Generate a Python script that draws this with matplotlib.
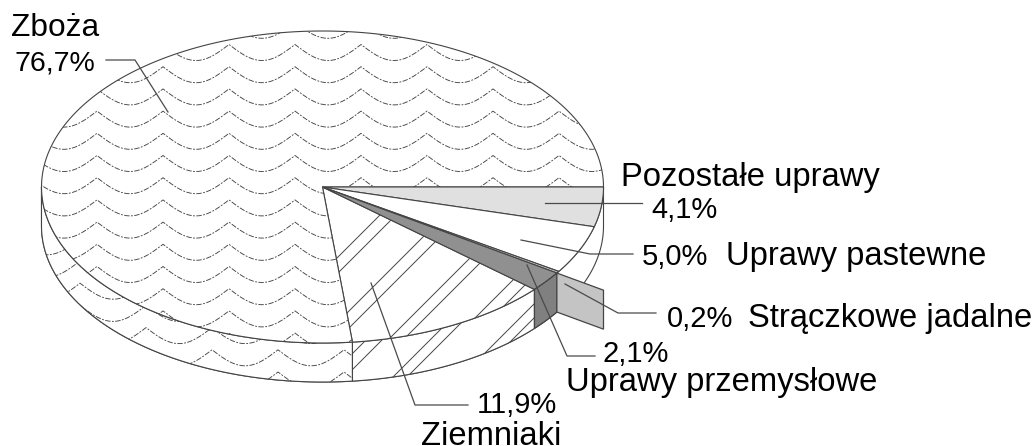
import numpy as np
import matplotlib
matplotlib.use('Agg')
import matplotlib.pyplot as plt
from matplotlib.patches import Polygon

plt.rcParams['font.family'] = ['Liberation Sans', 'DejaVu Sans']

# shares, clockwise from 3 o'clock
names = ['Pozostałe uprawy', 'Uprawy pastewne', 'Strączkowe jadalne',
         'Uprawy przemysłowe', 'Ziemniaki', 'Zboża']
shares = [4.1, 5.0, 0.2, 2.1, 11.9, 76.7]
pct_labels = ['4,1%', '5,0%', '0,2%', '2,1%', '11,9%', '76,7%']
colors = ['#e0e0e0', 'white', '#c4c4c4', '#909090', 'white', 'white']

# pie geometry in picture pixels
cx, cy = 322.5, 187
rx, ry = 281, 156
depth = 39
edge = '#444444'
lw = 0.8

angles = np.concatenate([[0], np.cumsum(shares)]) * 3.6


def rim(a0, a1, dy=0):
    t = np.radians(np.linspace(a0, a1, 200))
    return np.column_stack([cx + rx * np.cos(t), cy + dy + ry * np.sin(t)])


def top_poly(i):
    return np.vstack([[cx, cy], rim(angles[i], angles[i + 1])])


def side_poly(a0, a1):
    return np.vstack([rim(a0, a1), rim(a0, a1, depth)[::-1]])


def waves(ax, clip, x0, y0):
    xs = np.arange(0, 1036, 0.5)
    for k in range(-2, 18):
        ys = y0 + k * 22.2 + 16 * np.abs(np.sin(np.pi * (xs - x0) / 66))
        ln, = ax.plot(xs, ys, color='#444444', lw=0.65, dashes=(6, 1.6, 2, 1.6), zorder=3)
        ln.set_clip_path(clip)


def diagonals(ax, clip, sums):
    for s in sums:
        ln, = ax.plot([s - 500, s], [500, 0], color='#444444', lw=0.7, zorder=3)
        ln.set_clip_path(clip)


fig = plt.figure(figsize=(10.36, 4.46), dpi=100)
ax = fig.add_axes([0, 0, 1, 1])
ax.set_xlim(0, 1036)
ax.set_ylim(446, 0)
ax.axis('off')

# outer wall
wall = Polygon(side_poly(0, 180), closed=True, fc='white', ec=edge, lw=lw, zorder=2)
ax.add_patch(wall)

# hatch on the wall
a_zb = angles[5]
a_zm = angles[4]
wall_zb = Polygon(side_poly(a_zb, 180), closed=True, fc='white', ec=edge, lw=lw, zorder=2)
ax.add_patch(wall_zb)
waves(ax, wall_zb, 80, 372 - 22.2 * 4)
wall_zm = Polygon(side_poly(a_zm, a_zb), closed=True, fc='white', ec=edge, lw=lw, zorder=2)
ax.add_patch(wall_zm)
diagonals(ax, wall_zm, [706, 722, 770, 784, 838, 852, 904, 918])

# slices on top
tops = []
for i in range(len(shares)):
    p = Polygon(top_poly(i), closed=True, fc=colors[i], ec=edge, lw=lw, zorder=4)
    ax.add_patch(p)
    tops.append(p)

tops[5].set_zorder(2.5)
tops[4].set_zorder(2.5)
waves(ax, tops[5], 97, 44.5 - 22.2)
diagonals(ax, tops[4], [595, 611, 660, 677, 728, 743, 793, 810, 860, 876])

# the pulled out walls of the two small slices
a_s = angles[3]
a_p = angles[4]
ax.add_patch(Polygon(side_poly(a_s, a_p), closed=True, fc='#808080', ec=edge, lw=0.9, zorder=6))
x_in, y_in = rim(a_s, a_s)[0]
k = rx / (x_in - cx)
x_out, y_out = cx + rx, cy + (y_in - cy) * k
ax.add_patch(Polygon([[x_in, y_in], [x_out, y_out], [x_out, y_out + depth], [x_in, y_in + depth]],
                     closed=True, fc=colors[2], ec=edge, lw=0.9, zorder=6))

# leader lines
lead = '#4a4a4a'
leaders = [([106, 135, 168], [60, 60, 112]),
           ([545, 642], [203, 203]),
           ([521, 590, 633], [240, 254, 254]),
           ([565, 618, 656], [284, 313, 313]),
           ([527, 567, 595], [265, 356, 356]),
           ([371, 415, 468], [283, 405, 405])]
for lx, ly in leaders:
    ax.plot(lx, ly, color=lead, lw=0.9, zorder=7)

# labels
fs = 23.6
fp = 21
tc = 'black'
ax.text(11, 36, names[5], fontsize=22.8, color=tc, va='baseline')
ax.text(14, 71, pct_labels[5], fontsize=20.5, color=tc, va='baseline')
ax.text(621, 186, names[0], fontsize=fs, color=tc, va='baseline')
ax.text(651, 218, pct_labels[0], fontsize=fp, color=tc, va='baseline')
ax.text(642, 265, pct_labels[1], fontsize=fp, color=tc, va='baseline')
ax.text(726, 265, names[1], fontsize=fs, color=tc, va='baseline')
ax.text(667, 327, pct_labels[2], fontsize=fp, color=tc, va='baseline')
ax.text(748, 327, names[2], fontsize=fs, color=tc, va='baseline')
ax.text(603, 362, pct_labels[3], fontsize=fp, color=tc, va='baseline')
ax.text(566, 391, names[3], fontsize=fs, color=tc, va='baseline')
ax.text(477, 413, pct_labels[4], fontsize=fp, color=tc, va='baseline')
ax.text(421, 445, names[4], fontsize=fs, color=tc, va='baseline')

fig.savefig('out.png', dpi=100, facecolor='white')
